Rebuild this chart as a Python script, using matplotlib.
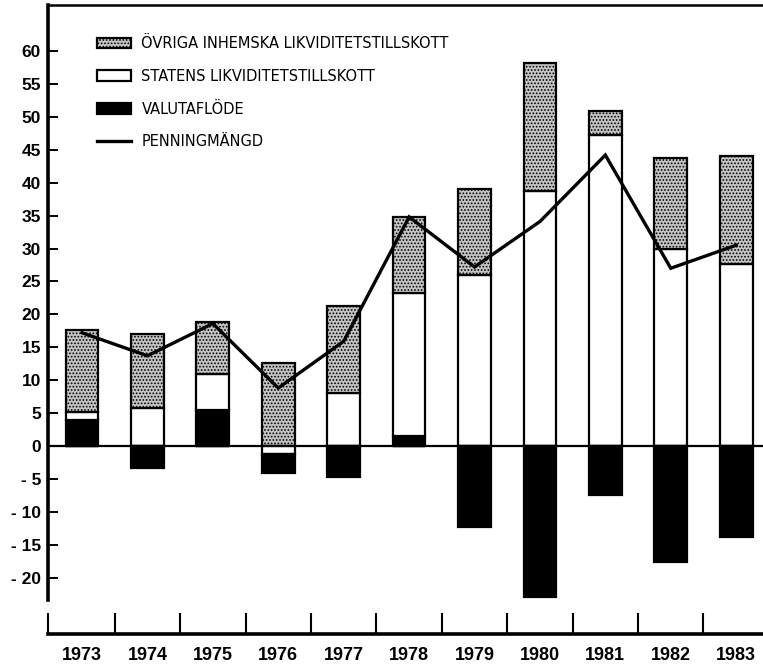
import matplotlib
matplotlib.use('Agg')
import matplotlib.pyplot as plt
import numpy as np
from matplotlib.patches import Patch
from matplotlib.lines import Line2D

years = ['1973', '1974', '1975', '1976', '1977', '1978', '1979', '1980', '1981', '1982', '1983']
valutaflode = [3.9, -3.4, 5.5, -2.9, -4.7, 1.5, -12.3, -22.9, -7.4, -17.6, -13.9]
statens = [1.3, 5.7, 5.5, -1.2, 8.1, 21.8, 26.0, 38.8, 47.2, 29.9, 27.7]
ovriga = [12.4, 11.3, 7.8, 12.6, 13.1, 11.5, 13.0, 19.4, 3.7, 13.9, 16.3]
penning = [17.2, 13.7, 18.6, 8.8, 15.9, 34.8, 27.2, 34.1, 44.2, 27.0, 30.5]

ytick_vals = [-20, -15, -10, -5, 0, 5, 10, 15, 20, 25, 30, 35, 40, 45, 50, 55, 60]
ytick_labels = ['- 20', '- 15', '- 10', '- 5', '0', '5', '10', '15', '20', '25', '30',
                '35', '40', '45', '50', '55', '60']
legend_labels = ['ÖVRIGA INHEMSKA LIKVIDITETSTILLSKOTT', 'STATENS LIKVIDITETSTILLSKOTT',
                 'VALUTAFLÖDE', 'PENNINGMÄNGD']

plt.rcParams['hatch.color'] = '#3a3a3a'
plt.rcParams['hatch.linewidth'] = 0.8

W, H = 763, 672
fig = plt.figure(figsize=(W / 100, H / 100), dpi=100)
ax = fig.add_axes([48 / W, 1 - 634 / H, 1 - 48 / W, (634 - 5) / H])

x = np.arange(len(years))
bw = 0.5
stip = dict(facecolor='#c4c4c4', hatch='.....', edgecolor='black', linewidth=1.6)
white = dict(facecolor='white', edgecolor='black', linewidth=1.6)
black = dict(facecolor='black', edgecolor='black', linewidth=1.6)

pos_base = np.zeros(len(years))
neg_base = np.zeros(len(years))
# positive parts stack upward: valuta, statens, ovriga
for vals, style in [(valutaflode, black), (statens, white), (ovriga, stip)]:
    v = np.array(vals, dtype=float)
    p = np.where(v > 0, v, 0)
    ax.bar(x, p, bw, bottom=pos_base, **style, zorder=2)
    pos_base = pos_base + p
# negative parts stack downward: statens, valuta
for vals, style in [(statens, white), (valutaflode, black)]:
    v = np.array(vals, dtype=float)
    n = np.where(v < 0, v, 0)
    ax.bar(x, n, bw, bottom=neg_base, **style, zorder=2)
    neg_base = neg_base + n

ax.plot(x, penning, color='black', lw=2.4, zorder=4, solid_joinstyle='miter')
ax.axhline(0, color='black', lw=1.6, zorder=3)

ax.set_xlim(-0.52, 10.41)
ax.set_ylim(-28.57, 67.0)

ax.spines['right'].set_visible(False)
ax.spines['left'].set_bounds(-23.4, 67.0)
ax.spines['left'].set_linewidth(2.6)
ax.spines['bottom'].set_linewidth(2.6)
ax.spines['top'].set_linewidth(1.8)

ax.set_yticks(ytick_vals)
ax.set_yticklabels(ytick_labels, fontsize=12.5, fontweight='bold', family='Liberation Sans')
ax.tick_params(axis='y', direction='in', length=7, width=1.4, pad=5)

ax.set_xticks(list(np.arange(len(years) - 1) + 0.5) + [-0.52])
ax.set_xticklabels([''] * len(years))
ax.tick_params(axis='x', which='major', direction='in', length=15, width=1.5)
ax.set_xticks(x, minor=True)
ax.set_xticklabels(years, minor=True, fontsize=13, fontweight='bold', family='Liberation Sans')
ax.tick_params(axis='x', which='minor', length=0, pad=9)

handles = [Patch(**stip), Patch(**white), Patch(**black), Line2D([], [], color='black', lw=2.4)]
leg = ax.legend(handles, legend_labels, loc='upper left', frameon=False,
                bbox_to_anchor=(97 / W, 1 - 36 / H), bbox_transform=fig.transFigure,
                borderpad=0, borderaxespad=0, handlelength=2.3, handleheight=0.77,
                handletextpad=0.75, labelspacing=1.22,
                prop={'size': 10.5, 'family': 'DejaVu Sans'})

fig.savefig('out.png', dpi=100)
